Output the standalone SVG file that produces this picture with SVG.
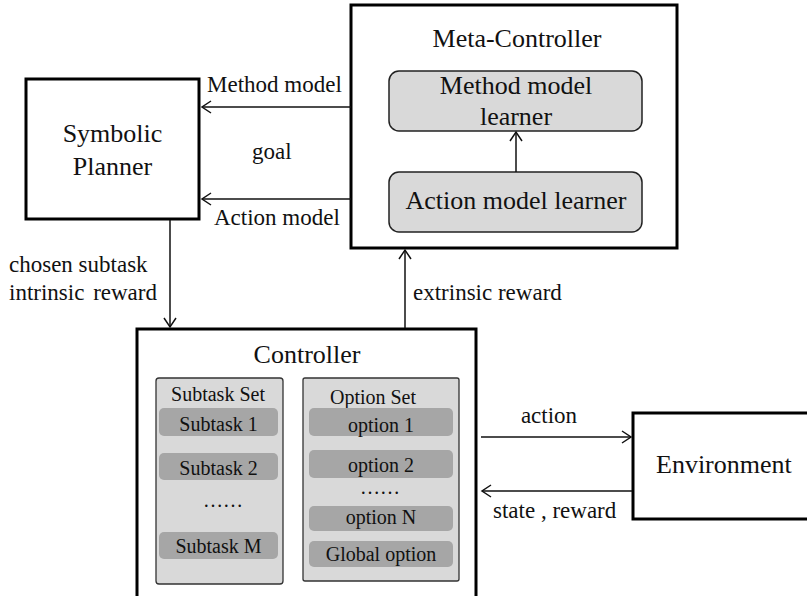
<svg xmlns="http://www.w3.org/2000/svg" width="807" height="596" viewBox="0 0 807 596">
<defs>
<style>
text{font-family:'Liberation Serif','DejaVu Serif','Noto Serif',Tinos,serif;fill:#111}
.big{font-size:26px}
.lbl{font-size:23px}
.sm{font-size:20px}
.main{fill:#fff;stroke:#000;stroke-width:3}
.inner{fill:#d9d9d9;stroke:#222;stroke-width:1.5}
.panel{fill:#d9d9d9;stroke:#333;stroke-width:1.3}
.item{fill:#a6a6a6;stroke:none}
.conn{stroke:#111;stroke-width:1.5;fill:none}
</style>
<marker id="arr" markerUnits="userSpaceOnUse" markerWidth="14" markerHeight="16" refX="0" refY="0" viewBox="-11 -8 13 16" orient="auto" overflow="visible">
<path d="M-9,-6 L0,0 L-9,6" fill="none" stroke="#111" stroke-width="1.5"/>
</marker>
</defs>
<rect width="807" height="596" fill="#fff"/>
<g font-family="Liberation Serif, DejaVu Serif, serif">
<g id="symbolic-planner">
<rect class="main" x="26" y="79" width="173" height="140"/>
<text class="big" x="112.5" y="142" text-anchor="middle">Symbolic</text>
<text class="big" x="112.5" y="175" text-anchor="middle">Planner</text>
</g>
<g id="meta-controller">
<rect class="main" x="351" y="5" width="326" height="243"/>
<text class="big" x="517" y="47" text-anchor="middle">Meta-Controller</text>
</g>
<g id="method-model-learner">
<rect class="inner" x="389" y="71" width="253" height="60" rx="10"/>
<text class="big" x="516" y="94" text-anchor="middle">Method model</text>
<text class="big" x="516" y="125" text-anchor="middle">learner</text>
</g>
<g id="action-model-learner">
<rect class="inner" x="389" y="172" width="253" height="60" rx="10"/>
<text class="big" x="516" y="209" text-anchor="middle">Action model learner</text>
</g>
<g id="controller">
<rect class="main" x="137" y="329" width="339" height="300"/>
<text class="big" x="307" y="363" text-anchor="middle">Controller</text>
</g>
<g id="subtask-set">
<rect class="panel" x="156" y="378" width="127" height="206" rx="3"/>
<text class="sm" x="218" y="401" text-anchor="middle">Subtask Set</text>
<rect class="item" x="159" y="408" width="119" height="28" rx="5"/>
<text class="sm" x="218.5" y="431" text-anchor="middle">Subtask 1</text>
<rect class="item" x="159" y="453" width="119" height="27" rx="5"/>
<text class="sm" x="218.5" y="475" text-anchor="middle">Subtask 2</text>
<text class="sm" x="223" y="507" text-anchor="middle">……</text>
<rect class="item" x="159" y="532" width="119" height="27" rx="5"/>
<text class="sm" x="218.5" y="553" text-anchor="middle">Subtask M</text>
</g>
<g id="option-set">
<rect class="panel" x="303" y="378" width="156" height="203" rx="2"/>
<text class="sm" x="373" y="404" text-anchor="middle">Option Set</text>
<rect class="item" x="309" y="408" width="144" height="28" rx="5"/>
<text class="sm" x="381" y="432" text-anchor="middle">option 1</text>
<rect class="item" x="309" y="450" width="144" height="28" rx="5"/>
<text class="sm" x="381" y="472" text-anchor="middle">option 2</text>
<text class="sm" x="380" y="494" text-anchor="middle">……</text>
<rect class="item" x="309" y="506" width="144" height="25" rx="5"/>
<text class="sm" x="381" y="524" text-anchor="middle">option N</text>
<rect class="item" x="309" y="541" width="144" height="26" rx="5"/>
<text class="sm" x="381" y="561" text-anchor="middle">Global option</text>
</g>
<g id="environment">
<rect class="main" x="633" y="413" width="190" height="106"/>
<text class="big" x="656" y="473">Environment</text>
</g>
<g id="connectors">
<line class="conn" x1="351" y1="107" x2="202" y2="107" marker-end="url(#arr)"/>
<line class="conn" x1="351" y1="199" x2="202" y2="199" marker-end="url(#arr)"/>
<line class="conn" x1="516" y1="172" x2="516" y2="132" marker-end="url(#arr)"/>
<line class="conn" x1="170" y1="220" x2="170" y2="327" marker-end="url(#arr)"/>
<line class="conn" x1="405" y1="328" x2="405" y2="250" marker-end="url(#arr)"/>
<line class="conn" x1="481" y1="437" x2="631" y2="437" marker-end="url(#arr)"/>
<line class="conn" x1="632" y1="491" x2="482" y2="491" marker-end="url(#arr)"/>
<text class="lbl" x="207" y="92">Method model</text>
<text class="lbl" x="252" y="159">goal</text>
<text class="lbl" x="214" y="225">Action model</text>
<text class="lbl" x="9" y="272">chosen subtask</text>
<text class="lbl" x="9" y="300" word-spacing="3">intrinsic reward</text>
<text class="lbl" x="413" y="300">extrinsic reward</text>
<text class="lbl" x="549" y="423" text-anchor="middle">action</text>
<text class="lbl" x="493" y="518">state , reward</text>
</g>
</g>
</svg>
